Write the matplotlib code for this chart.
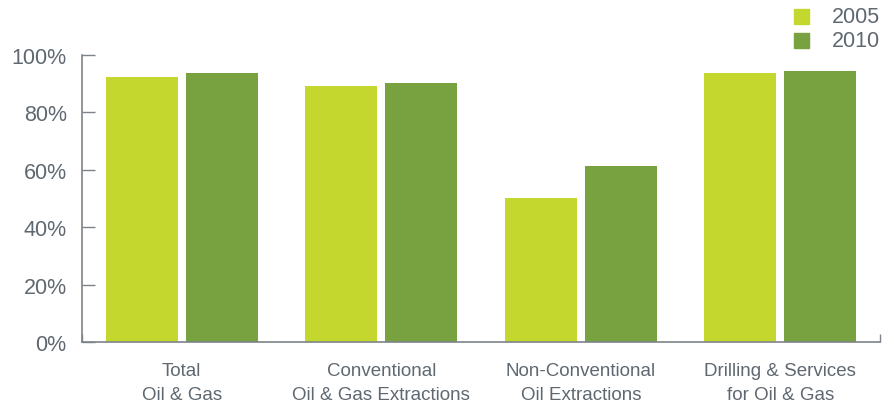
import matplotlib
matplotlib.use("Agg")
import matplotlib.pyplot as plt
from matplotlib.patches import Rectangle
import numpy as np

categories = ["Total\nOil & Gas", "Conventional\nOil & Gas Extractions",
              "Non-Conventional\nOil Extractions", "Drilling & Services\nfor Oil & Gas"]
years = ["2005", "2010"]
share_2005 = [92.3, 89.3, 50.2, 93.7]
share_2010 = [93.7, 90.2, 61.4, 94.4]
y_ticks = [0, 20, 40, 60, 80, 100]

COLORS = ["#c3d72f", "#78a240"]
TEXT = "#5f6870"
SPINE = "#7d8388"

plt.rcParams["font.family"] = ["Liberation Sans", "DejaVu Sans"]

fig = plt.figure(figsize=(8.94, 4.06), dpi=100)
ax = fig.add_axes([0.0917, 0.155, 0.8927, 0.707])

x = np.arange(len(categories))
width = 0.36
for vals, off, color, label in zip([share_2005, share_2010], [-0.2, 0.2], COLORS, years):
    ax.bar(x + off, vals, width, color=color, label=label, zorder=2)

ax.set_xlim(-0.5, 3.5)
ax.set_ylim(0, 100)
ax.set_yticks(y_ticks)
ax.set_yticklabels([f"{v}%" for v in y_ticks])
ax.tick_params(axis="y", direction="in", length=9, width=1, color=SPINE,
               labelsize=15.5, labelcolor=TEXT, pad=11)

# categories as plain text, axis ticks only at the two ends
ax.set_xticks([-0.5, 3.5])
ax.set_xticklabels([])
ax.tick_params(axis="x", direction="in", length=6, width=1, color=SPINE)
for xi, cat in zip(x, categories):
    ax.text(xi, -6.8, cat, ha="center", va="top", fontsize=13.5, color=TEXT,
            linespacing=1.55, transform=ax.transData, clip_on=False)

for side in ["top", "right"]:
    ax.spines[side].set_visible(False)
for side in ["left", "bottom"]:
    ax.spines[side].set_color(SPINE)
    ax.spines[side].set_linewidth(1.2)

# legend in the top-right corner
for i, (label, color) in enumerate(zip(years, COLORS)):
    top = 1 - (10 + 24 * i) / 406
    fig.patches.append(Rectangle((794 / 894, top - 15 / 406), 15 / 894, 15 / 406,
                                 transform=fig.transFigure, color=color))
    fig.text(832 / 894, top - 7.5 / 406, label, ha="left", va="center",
             fontsize=15.5, color=TEXT)

fig.savefig("out.png", dpi=100)
